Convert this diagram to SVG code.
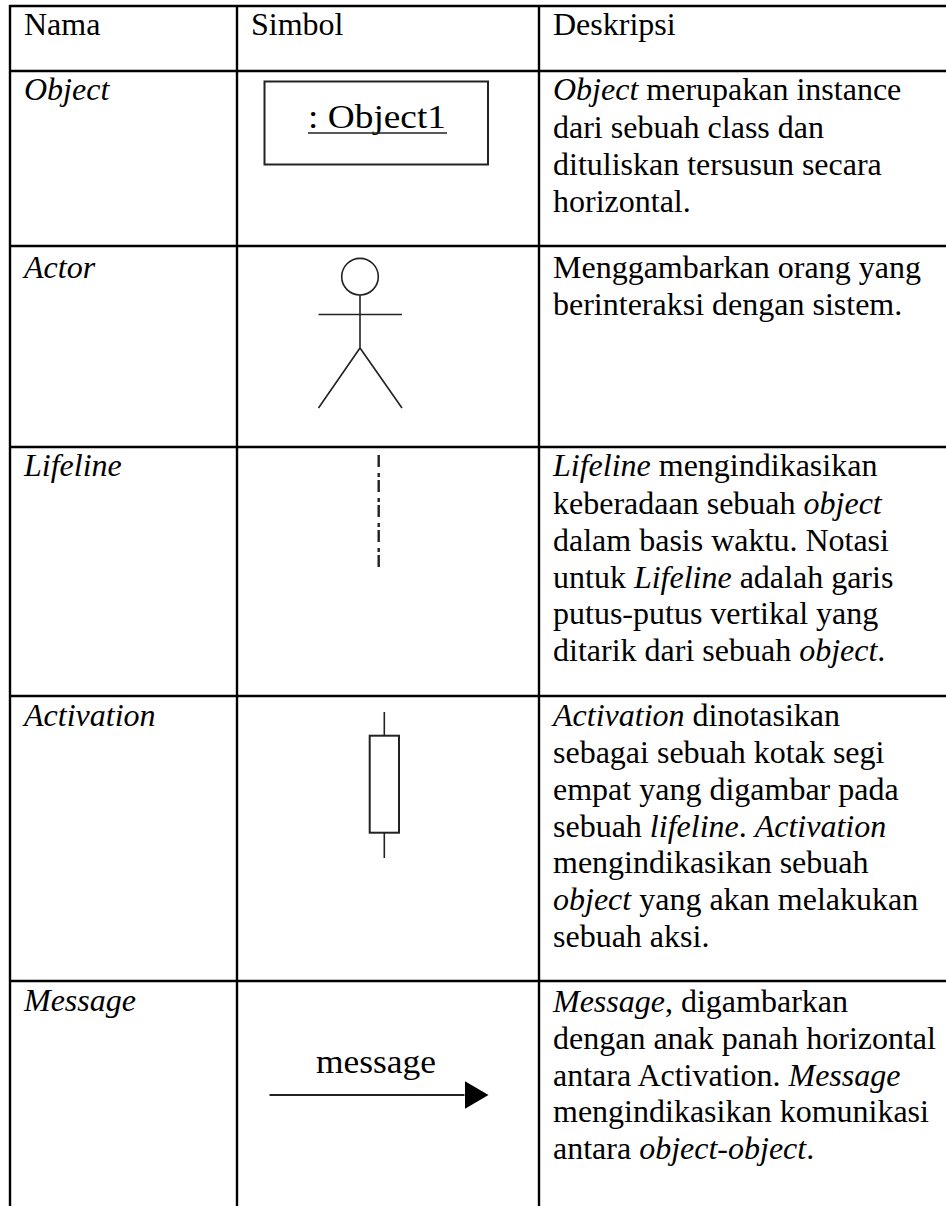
<svg xmlns="http://www.w3.org/2000/svg" width="946" height="1206" viewBox="0 0 946 1206">
<style>
text{font-family:"Liberation Serif","Times New Roman",serif;font-size:32px;fill:#000}
.i{font-style:italic}
.grid{stroke:#000;stroke-width:2.4;fill:none}
.sym{stroke:#222;stroke-width:2;fill:none}
.thin{stroke:#222;stroke-width:1.6;fill:none}
.life{stroke:#222;stroke-width:2.4;fill:none;stroke-dasharray:12 6 4 3}
.lbl{font-size:34px}
</style>
<defs>
<marker id="head" markerUnits="userSpaceOnUse" markerWidth="24" markerHeight="28" refX="0" refY="14" orient="auto">
<path d="M0 0L24 14L0 28Z" fill="#000"/>
</marker>
</defs>
<rect width="946" height="1206" fill="#fff"/>
<g id="grid" class="grid">
<path d="M9.5 6H946M9.5 71H946M9.5 246H946M9.5 447H946M9.5 696H946M9.5 981H946"/>
<path d="M10 5V1206M237 5V1206M539 5V1206"/>
</g>
<g id="header">
<text x="24" y="35">Nama</text>
<text x="251" y="35">Simbol</text>
<text x="553" y="35">Deskripsi</text>
</g>
<g id="row-object">
<text class="i" x="24" y="100">Object</text>
<rect class="sym" x="264.5" y="81.5" width="223.5" height="83"/>
<text class="lbl" x="308" y="128" textLength="138" lengthAdjust="spacingAndGlyphs">: Object1</text>
<path class="thin" d="M308 133H447"/>
<text x="553" y="100"><tspan class="i">Object</tspan> merupakan instance</text>
<text x="553" y="137.5">dari sebuah class dan</text>
<text x="553" y="175">dituliskan tersusun secara</text>
<text x="553" y="211.5">horizontal.</text>
</g>
<g id="row-actor">
<text class="i" x="24" y="278">Actor</text>
<circle class="thin" cx="360" cy="276.7" r="18.3"/>
<path class="thin" d="M318.5 314.5H402M360 295V348M318.5 408L360 348L402 408"/>
<text x="553" y="278">Menggambarkan orang yang</text>
<text x="553" y="315">berinteraksi dengan sistem.</text>
</g>
<g id="row-lifeline">
<text class="i" x="24" y="476">Lifeline</text>
<path class="life" d="M378.7 455V569"/>
<text x="553" y="476"><tspan class="i">Lifeline</tspan> mengindikasikan</text>
<text x="553" y="514">keberadaan sebuah <tspan class="i">object</tspan></text>
<text x="553" y="550.5">dalam basis waktu. Notasi</text>
<text x="553" y="587.5">untuk <tspan class="i">Lifeline</tspan> adalah garis</text>
<text x="553" y="624">putus-putus vertikal yang</text>
<text x="553" y="661">ditarik dari sebuah <tspan class="i">object</tspan>.</text>
</g>
<g id="row-activation">
<text class="i" x="24" y="726">Activation</text>
<rect class="sym" x="369.7" y="735.7" width="29.3" height="97"/>
<path class="thin" d="M384.3 712V735.7M384.3 832.7V858"/>
<text x="553" y="726"><tspan class="i">Activation</tspan> dinotasikan</text>
<text x="553" y="763">sebagai sebuah kotak segi</text>
<text x="553" y="800">empat yang digambar pada</text>
<text x="553" y="836.5">sebuah <tspan class="i">lifeline</tspan>. <tspan class="i">Activation</tspan></text>
<text x="553" y="873">mengindikasikan sebuah</text>
<text x="553" y="910"><tspan class="i">object</tspan> yang akan melakukan</text>
<text x="553" y="946.5">sebuah aksi.</text>
</g>
<g id="row-message">
<text class="i" x="24" y="1011">Message</text>
<text class="lbl" x="316" y="1072.5" textLength="120" lengthAdjust="spacingAndGlyphs">message</text>
<text x="553" y="1012"><tspan class="i">Message</tspan>, digambarkan</text>
<text x="553" y="1049">dengan anak panah horizontal</text>
<text x="553" y="1085.5">antara Activation. <tspan class="i">Message</tspan></text>
<text x="553" y="1122">mengindikasikan komunikasi</text>
<text x="553" y="1158.5">antara <tspan class="i">object-object</tspan>.</text>
</g>
<g id="connectors">
<path class="sym" d="M269.5 1095H464.5" marker-end="url(#head)"/>
</g>
</svg>
